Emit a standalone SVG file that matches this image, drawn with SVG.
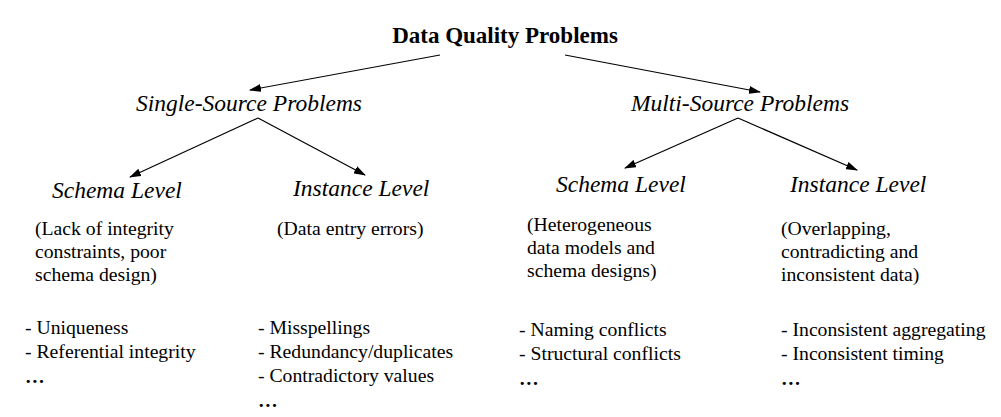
<svg xmlns="http://www.w3.org/2000/svg" width="1001" height="417" viewBox="0 0 1001 417">
<style>
text{font-family:"Liberation Serif",serif;fill:#000}
.t{font-size:23px;font-weight:bold}
.h{font-size:23.5px;font-style:italic}
.b{font-size:19.7px}
line{stroke:#000;stroke-width:1.2}
</style>
<defs><marker id="a" markerWidth="12" markerHeight="8" refX="11" refY="4" orient="auto" markerUnits="userSpaceOnUse"><path d="M0,0L12,4L0,8z" fill="#000"/></marker></defs>
<rect width="1001" height="417" fill="#fff"/>
<g id="connectors">
<line x1="440" y1="55" x2="250" y2="90" marker-end="url(#a)"/>
<line x1="565" y1="55" x2="760" y2="92" marker-end="url(#a)"/>
<line x1="258" y1="118" x2="130" y2="177" marker-end="url(#a)"/>
<line x1="258" y1="118" x2="365" y2="175" marker-end="url(#a)"/>
<line x1="738" y1="118" x2="625" y2="168" marker-end="url(#a)"/>
<line x1="738" y1="118" x2="857" y2="170" marker-end="url(#a)"/>
</g>
<g id="root"><text class="t" x="505" y="43" text-anchor="middle">Data Quality Problems</text></g>
<g id="single"><text class="h" x="249" y="111" text-anchor="middle">Single-Source Problems</text></g>
<g id="multi"><text class="h" x="740" y="111" text-anchor="middle">Multi-Source Problems</text></g>
<g id="ss-schema"><text class="h" x="52" y="198">Schema Level</text>
<text class="b" x="35" y="235">(Lack of integrity</text><text class="b" x="35" y="258">constraints, poor</text><text class="b" x="35" y="281">schema design)</text>
<text class="b" x="25" y="334">- Uniqueness</text><text class="b" x="25" y="358">- Referential integrity</text><text class="b" x="25" y="383" font-weight="bold">…</text></g>
<g id="ss-instance"><text class="h" x="293" y="196">Instance Level</text>
<text class="b" x="277" y="235">(Data entry errors)</text>
<text class="b" x="258" y="334">- Misspellings</text><text class="b" x="258" y="358">- Redundancy/duplicates</text><text class="b" x="258" y="382">- Contradictory values</text><text class="b" x="258" y="407" font-weight="bold">…</text></g>
<g id="ms-schema"><text class="h" x="556" y="192">Schema Level</text>
<text class="b" x="527" y="231">(Heterogeneous</text><text class="b" x="527" y="254">data models and</text><text class="b" x="527" y="277">schema designs)</text>
<text class="b" x="519" y="336">- Naming conflicts</text><text class="b" x="519" y="360">- Structural conflicts</text><text class="b" x="519" y="385" font-weight="bold">…</text></g>
<g id="ms-instance"><text class="h" x="790" y="192">Instance Level</text>
<text class="b" x="781" y="235">(Overlapping,</text><text class="b" x="781" y="258">contradicting and</text><text class="b" x="781" y="281">inconsistent data)</text>
<text class="b" x="781" y="336">- Inconsistent aggregating</text><text class="b" x="781" y="360">- Inconsistent timing</text><text class="b" x="781" y="385" font-weight="bold">…</text></g>
</svg>
